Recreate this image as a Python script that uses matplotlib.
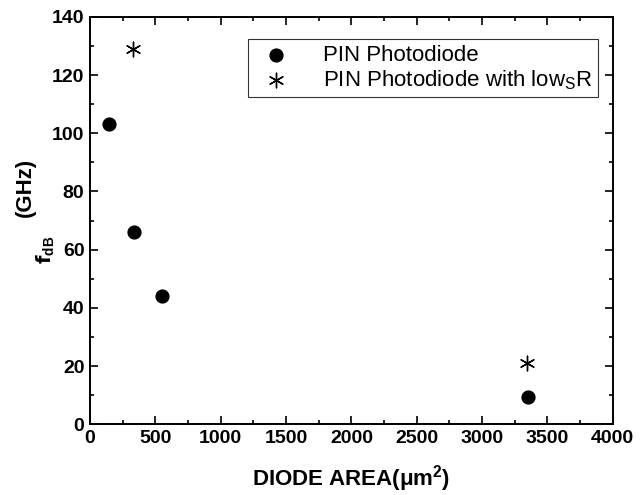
import matplotlib
matplotlib.use("Agg")
import matplotlib.pyplot as plt
from matplotlib.ticker import MultipleLocator

plt.rcParams['font.family'] = ['Liberation Sans', 'DejaVu Sans']

# PIN photodiode
area_pin = [145, 340, 550, 3350]
f3db_pin = [103, 66, 44, 9.5]
# PIN photodiode with low R_S
area_lowr = [330, 3345]
f3db_lowr = [129, 21]

fig = plt.figure(figsize=(6.43, 4.95), dpi=100)
ax = fig.add_axes([0.14, 0.143, 0.813, 0.823])

ax.scatter(area_pin, f3db_pin, color="black", marker="o", s=85, label="PIN Photodiode", zorder=3)
ax.scatter(area_lowr, f3db_lowr, color="black", marker=(6, 2, 0), s=110, linewidths=1.0,
           label="PIN Photodiode with low$_{\\mathregular{S}}$R", zorder=3)

ax.set_xlim(0, 4000)
ax.set_ylim(0, 140)
ax.xaxis.set_major_locator(MultipleLocator(500))
ax.xaxis.set_minor_locator(MultipleLocator(250))
ax.yaxis.set_major_locator(MultipleLocator(20))
ax.yaxis.set_minor_locator(MultipleLocator(10))
ax.tick_params(which="both", direction="in", top=True, right=True, width=1.2)
ax.tick_params(which="major", length=6, labelsize=14, pad=4)
ax.tick_params(which="minor", length=3)
for lab in ax.get_xticklabels() + ax.get_yticklabels():
    lab.set_fontweight("bold")
for sp in ax.spines.values():
    sp.set_linewidth(1.4)

ax.set_xlabel("DIODE AREA(\u03bcm$^{\\mathregular{2}}$)", fontsize=16, fontweight="bold", labelpad=12)

# y label: "(GHz)" and the small f_dB sit apart, as in the scan
fig.text(0.040, 0.622, "(GHz)", rotation=90, fontsize=16, fontweight="bold",
         ha="center", va="center")
fig.text(0.072, 0.495, "$\\mathbf{f}_{\\mathregular{dB}}$", rotation=90, fontsize=14,
         fontweight="bold", ha="center", va="center")

leg = ax.legend(loc="upper right", bbox_to_anchor=(0.971, 0.945), fontsize=16, frameon=True,
                fancybox=False, edgecolor="black", handletextpad=1.1, borderpad=0.25,
                borderaxespad=0, labelspacing=0.1, scatterpoints=1)
leg.get_frame().set_linewidth(0.8)

fig.savefig("out.png", dpi=100)
